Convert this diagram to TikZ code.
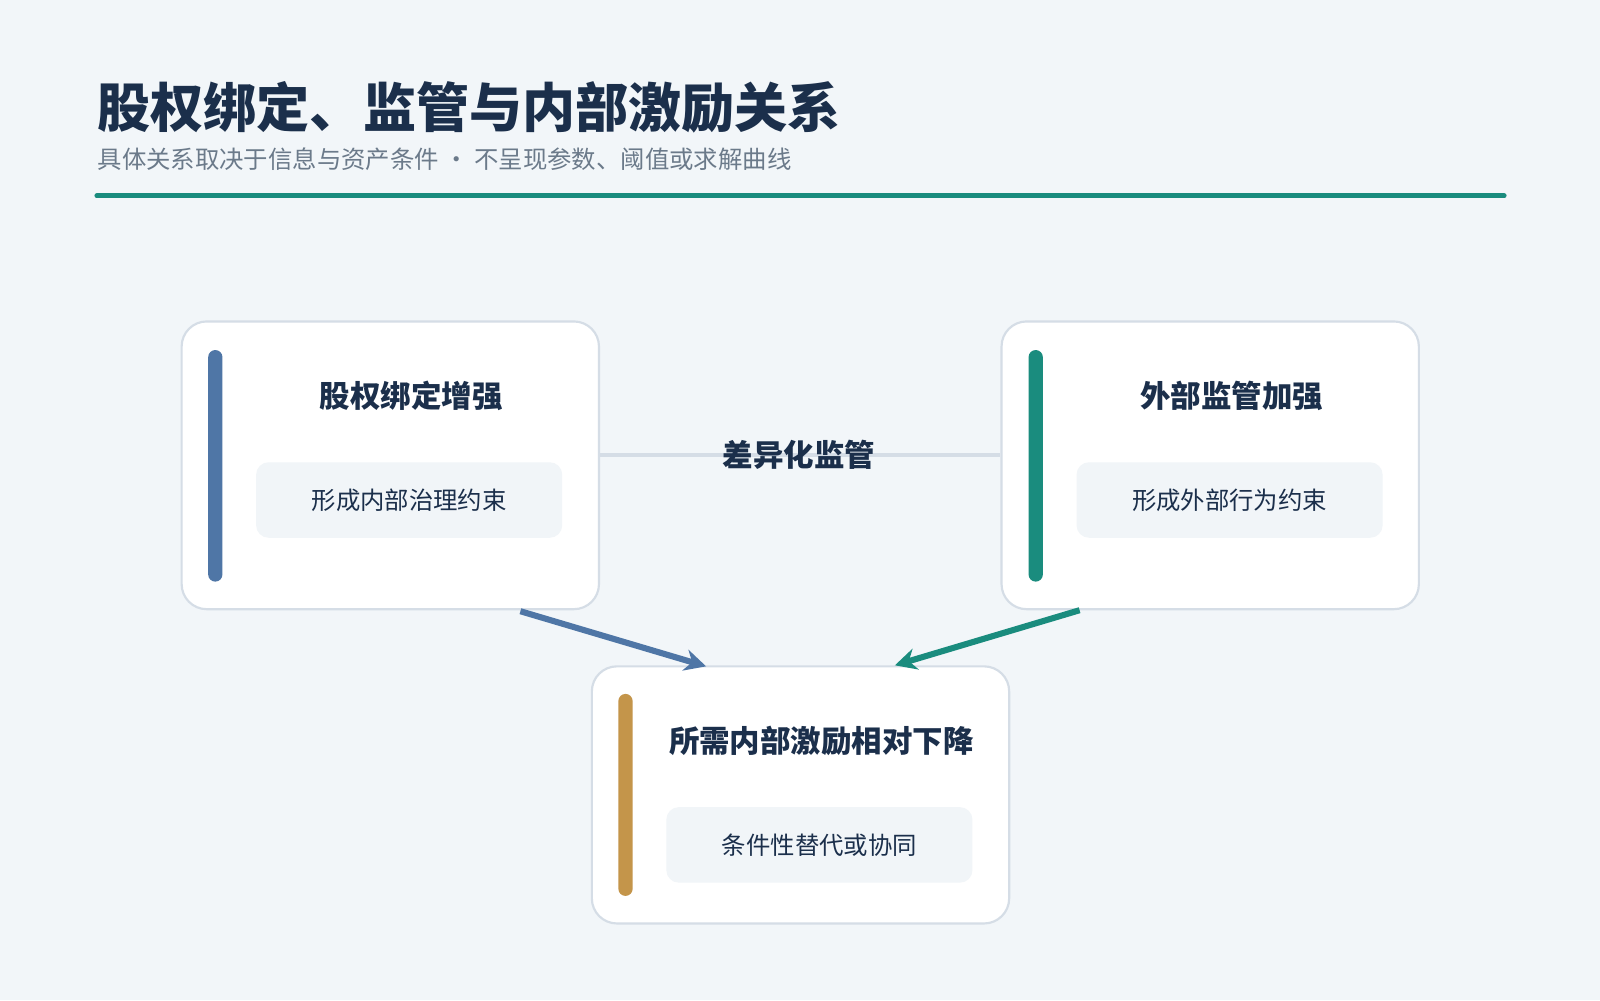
\documentclass[tikz,border=0pt]{standalone}
\usepackage{fontspec}
\setmainfont{Noto Sans CJK SC}
\usetikzlibrary{arrows.meta}
\definecolor{bgc}{HTML}{F2F6F9}
\definecolor{ink}{HTML}{1B2F4B}
\definecolor{subc}{HTML}{6B7A8A}
\definecolor{teal}{HTML}{1A8C7E}
\definecolor{blu}{HTML}{4F76A6}
\definecolor{gold}{HTML}{C4954A}
\definecolor{edgec}{HTML}{D5DDE6}
\definecolor{innerc}{HTML}{F1F5F8}
\tikzset{
  card/.style={draw=edgec, line width=0.6pt, fill=white, rounded corners=7pt, minimum width=40.9mm, inner sep=0pt},
  bar/.style={fill=#1, rounded corners=2pt},
  head/.style={font=\bfseries\fontsize{8.5}{10}\selectfont, text=ink},
  sub/.style={fill=innerc, rounded corners=3.5pt, minimum width=30mm, minimum height=7.4mm, font=\fontsize{6.8}{8}\selectfont, text=ink},
  link/.style={line width=1.7pt, -{Stealth[length=6pt,width=6pt]}}
}
\begin{document}
\begin{tikzpicture}[x=0.1mm, y=-0.1mm]
    \fill[bgc] (0,0) rectangle (1568,980);
    \node[anchor=base west, font=\bfseries\fontsize{14.8}{16}\selectfont, text=ink, inner sep=0pt] (title) at (95,125) {股权绑定、监管与内部激励关系};
    \node[anchor=base west, font=\fontsize{6.8}{8}\selectfont, text=subc, inner sep=0pt] (subtitle) at (95,165) {具体关系取决于信息与资产条件 · 不呈现参数、阈值或求解曲线};
    \draw[teal, line width=1.4pt, line cap=round] (95,192) -- (1474,192);

    % cards
    \node[card, minimum height=28.2mm] (bind) at (382.5,456) {};
    \node[card, minimum height=28.2mm] (watch) at (1186,456) {};
    \node[card, minimum height=25.2mm] (need) at (784.5,779) {};

    \fill[bar=blu] (204,343) rectangle (218,570);
    \fill[bar=teal] (1008,343) rectangle (1022,570);
    \fill[bar=gold] (606,680) rectangle (620,878);

    \node[head] (bindT) at (403,388) {股权绑定增强};
    \node[head] (watchT) at (1207,388) {外部监管加强};
    \node[head] (needT) at (805,726) {所需内部激励相对下降};

    \node[sub] (bindS) at (401,490) {形成内部治理约束};
    \node[sub] (watchS) at (1205,490) {形成外部行为约束};
    \node[sub] (needS) at (803,828) {条件性替代或协同};

    % connectors
    \draw[edgec, line width=1.1pt] (bind.east |- 0,446) -- (watch.west |- 0,446);
    \node[head, fill=none] (diff) at (783,446) {差异化监管};
    \coordinate (bindOut) at (510,599);
    \coordinate (watchOut) at (1058,598);
    \draw[link, blu] (bindOut) -- (692,653);
    \draw[link, teal] (watchOut) -- (877,652);
\end{tikzpicture}
\end{document}
